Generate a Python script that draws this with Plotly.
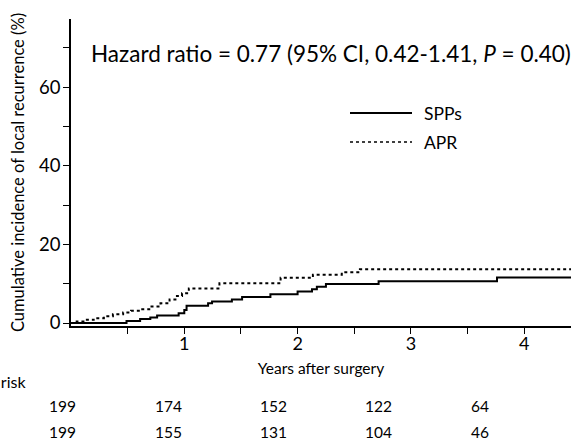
import plotly.graph_objects as go

# Step data (years, cumulative incidence %)
spps_t = [0, 0.49, 0.61, 0.70, 0.76, 0.95, 1.0, 1.02, 1.21, 1.245, 1.42, 1.51, 1.76, 2.0, 2.127, 2.17, 2.25, 2.715, 3.76, 4.42]
spps_v = [0, 0.5, 1.0, 1.4, 1.9, 2.5, 3.3, 4.4, 5.0, 5.5, 6.0, 6.6, 7.3, 8.0, 8.6, 9.2, 9.9, 10.6, 11.6, 11.6]

apr_t = [0, 0.05, 0.12, 0.2, 0.29, 0.37, 0.46, 0.53, 0.61, 0.7, 0.79, 0.87, 0.935, 0.98, 1.04, 1.31, 1.85, 2.135, 2.39, 2.55, 4.42]
apr_v = [0, 0.4, 0.8, 1.2, 1.7, 2.2, 2.7, 3.1, 3.5, 4.2, 5.0, 6.0, 6.9, 7.6, 8.8, 10.1, 11.5, 12.3, 12.9, 13.7, 13.7]

risk_spps = [199, 174, 152, 122, 64]
risk_apr = [199, 155, 131, 104, 46]
risk_x_px = [62, 168, 273, 378, 480]

x_ticks = [1, 2, 3, 4]
y_ticks = [0, 20, 40, 60]

FONT = "Lato, Carlito, 'Open Sans', sans-serif"
L, W = 71, 500  # plot left edge and width in px


def px2paper(px):
    return (px - L) / W


fig = go.Figure()
fig.add_trace(go.Scatter(x=spps_t, y=spps_v, mode="lines", line=dict(shape="hv", color="black", width=2),
                         name="SPPs", showlegend=False))
fig.add_trace(go.Scatter(x=apr_t, y=apr_v, mode="lines", line=dict(shape="hv", color="black", width=2, dash="dot"),
                         name="APR", showlegend=False))

ann = []
ann.append(dict(x=px2paper(89), y=(326 - 53) / 307, xref="paper", yref="paper",
                text="Hazard ratio = 0.77 (95% CI, 0.42-1.41, <i>P</i> = 0.40)",
                showarrow=False, xanchor="left", yanchor="middle", font=dict(size=22.5, color="black", family=FONT)))
# manual legend
for ypx, name, dash in [(113, "SPPs", "solid"), (142, "APR", "dot")]:
    yp = (326 - ypx) / 307
    fig.add_shape(type="line", x0=px2paper(350), x1=px2paper(412), y0=yp, y1=yp, xref="paper", yref="paper",
                  line=dict(color="black", width=2 if dash == "solid" else 1.5, dash=dash))
    ann.append(dict(x=px2paper(422), y=yp, xref="paper", yref="paper", text=name, showarrow=False, xanchor="left",
                    yanchor="middle", font=dict(size=17.5, color="black", family=FONT)))

ann.append(dict(x=px2paper(28), y=(326 - 381) / 307, xref="paper", yref="paper", text="Number at risk",
                showarrow=False, xanchor="right", yanchor="middle", font=dict(size=16, color="black", family=FONT)))
for xs, a, b in zip(risk_x_px, risk_spps, risk_apr):
    ann.append(dict(x=px2paper(xs), y=(326 - 406) / 307, xref="paper", yref="paper", text=str(a), showarrow=False,
                    xanchor="center", yanchor="middle", font=dict(size=15.5, color="black", family=FONT)))
    ann.append(dict(x=px2paper(xs), y=(326 - 432) / 307, xref="paper", yref="paper", text=str(b), showarrow=False,
                    xanchor="center", yanchor="middle", font=dict(size=15.5, color="black", family=FONT)))

fig.update_layout(
    width=571, height=441,
    margin=dict(l=L, r=0, t=19, b=115),
    paper_bgcolor="white", plot_bgcolor="white",
    font=dict(family=FONT, color="black"),
    annotations=ann,
    xaxis=dict(range=[0, 4.413], tickvals=x_ticks, ticks="outside", ticklen=6, tickwidth=1, tickcolor="black",
               showline=True, linecolor="black", linewidth=1.5, showgrid=False, zeroline=False, automargin=False,
               tickfont=dict(size=18, color="black"), ticklabelstandoff=-5,
               minor=dict(tickvals=[0.5, 1.5, 2.5, 3.5], ticks="outside", ticklen=6, tickcolor="black"),
               title=dict(text="Years after surgery", font=dict(size=15.5, color="black"), standoff=10)),
    yaxis=dict(range=[-0.76, 77.35], tickvals=y_ticks, ticks="outside", ticklen=6, tickwidth=1, tickcolor="black",
               showline=True, linecolor="black", linewidth=1.5, showgrid=False, zeroline=False, automargin=False,
               tickfont=dict(size=18.5, color="black"), ticklabelstandoff=-1,
               minor=dict(tickvals=[10, 30, 50, 70], ticks="outside", ticklen=6, tickcolor="black"),
               title=dict(text="Cumulative incidence of local recurrence (%)", font=dict(size=16.5, color="black"),
                          standoff=10)),
)

fig.write_html("out.html", config={"displayModeBar": False},
               post_script="document.body.style.margin='0';document.body.style.overflow='hidden';")
